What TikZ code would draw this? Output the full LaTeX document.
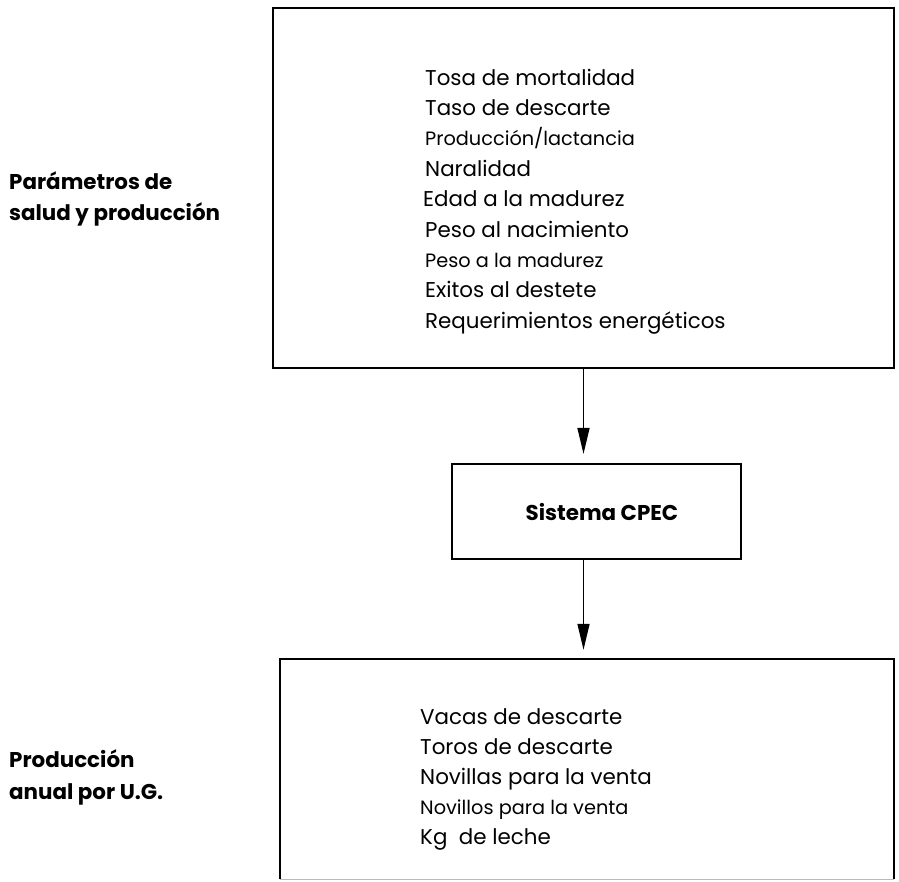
\documentclass[tikz,border=0pt]{standalone}
\usepackage{fontspec}
\setmainfont{Poppins}
\usetikzlibrary{arrows.meta}

\tikzset{
  boxline/.style={line width=2.2pt, draw=black},
  panel/.style={boxline, rectangle, inner sep=0pt},
  flow/.style={line width=1.5pt, -{Triangle[length=26pt,width=12pt]}, shorten >=9pt},
  item/.style={anchor=base west, inner sep=0pt, font=\fontsize{21.4}{25}\selectfont},
  smallitem/.style={item, font=\fontsize{19.3}{23}\selectfont},
  sidelabel/.style={anchor=base west, inner sep=0pt, font=\bfseries\fontsize{21.4}{25}\selectfont},
}

\begin{document}
\begin{tikzpicture}[x=1pt, y=-1pt]
  \useasboundingbox (0,0) rectangle (899,881);

  % input parameters box
  \node[panel, minimum width=621pt, minimum height=360pt] (params) at (583.5,188) {};
  % CPEC system box
  \node[panel, minimum width=289pt, minimum height=95pt] (cpec) at (596.5,511.5) {};
  \node[font=\bfseries\fontsize{21.4}{25}\selectfont, inner sep=0pt] (cpectxt) at (602,512) {Sistema CPEC};
  % output box (open at the foot)
  \node[rectangle, inner sep=0pt, minimum width=614pt, minimum height=220pt] (output) at (587,769) {};
  \draw[boxline] (output.south west) -- (output.north west) -- (output.north east) -- (output.south east);
  \draw[gray!55, line width=0.8pt] (output.south west) -- (output.south east);

  % parameter list
  \node[item]      (p1) at (425,85)    {Tosa de mortalidad};
  \node[item]      (p2) at (425,115.4) {Taso de descarte};
  \node[smallitem] (p3) at (425,145.8) {Producción/lactancia};
  \node[item]      (p4) at (425,176.2) {Naralidad};
  \node[item]      (p5) at (423,206.6) {Edad a la madurez};
  \node[item]      (p6) at (425,237)   {Peso al nacimiento};
  \node[smallitem] (p7) at (425,267.4) {Peso a la madurez};
  \node[item]      (p8) at (425,297.8) {Exitos al destete};
  \node[item]      (p9) at (425,328.2) {Requerimientos energéticos};

  % output list
  \node[item]      (o1) at (420,724) {Vacas de descarte};
  \node[item]      (o2) at (420,754) {Toros de descarte};
  \node[item]      (o3) at (420,784) {Novillas para la venta};
  \node[smallitem] (o4) at (420,814) {Novillos para la venta};
  \node[item]      (o5) at (420,844) {Kg\ \ de leche};

  % side labels
  \node[sidelabel] (l1) at (9,189) {Parámetros de};
  \node[sidelabel] (l2) at (9,220) {salud y producción};
  \node[sidelabel] (l3) at (9,767) {Producción};
  \node[sidelabel] (l4) at (9,799) {anual por U.G.};

  % connectors
  \draw[flow] (params.south) -- (params.south |- cpec.north);
  \draw[flow] (params.south |- cpec.south) -- (params.south |- output.north);
\end{tikzpicture}
\end{document}
